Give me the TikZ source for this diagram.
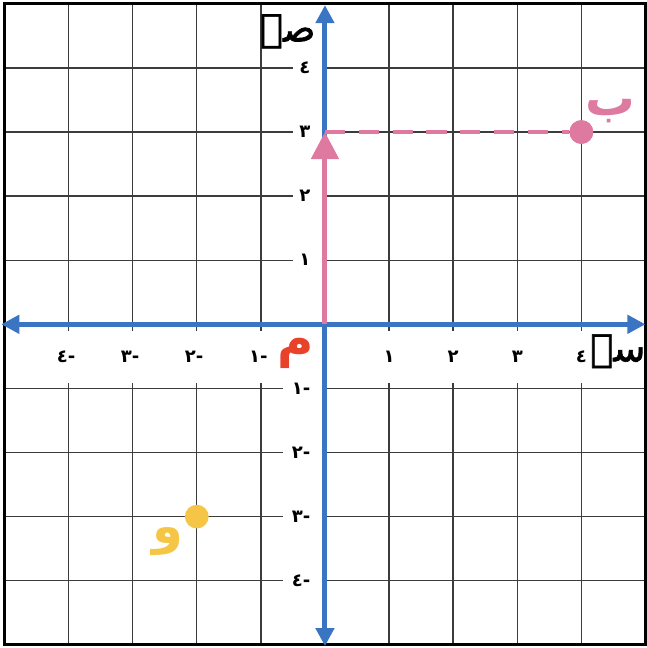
\documentclass[tikz,border=0pt]{standalone}
\usepackage{fontspec}
\usetikzlibrary{arrows.meta}
\TeXXeTstate=1
\newfontfamily\arabicfont[Script=Arabic]{DejaVu Sans}
\newfontfamily\axisfont[Script=Arabic, FakeBold=1.5]{DejaVu Sans}
\definecolor{axisblue}{RGB}{58,117,196}
\definecolor{vecpink}{RGB}{222,122,160}
\definecolor{dotyellow}{RGB}{245,198,70}
\definecolor{labelred}{RGB}{232,67,42}
\definecolor{gridgray}{RGB}{60,60,60}

\begin{document}
\begin{tikzpicture}[x=1cm, y=1cm,
    gridline/.style={gridgray, line width=0.6pt},
    axisline/.style={axisblue, line width=2.2pt, {Triangle[length=8pt,width=8pt]}-{Triangle[length=8pt,width=8pt]}},
    ticklabel/.style={font=\arabicfont\bfseries\fontsize{8}{9}\selectfont, inner sep=0pt},
    letter/.style={font=\arabicfont\bfseries\fontsize{22}{24}\selectfont, inner sep=0pt},
    axislabel/.style={font=\axisfont\fontsize{17}{20}\selectfont, inner sep=0pt},
    dot/.style={circle, minimum size=0.37cm, inner sep=0pt}]
        \useasboundingbox (-5.07,-5.05) rectangle (5.01,5.06);

        % Grid
        \foreach \k in {-4,...,-1,1,2,3,4} {
            \draw [gridline] (\k,5) -- (\k,-0.11);
            \draw [gridline] (\k,-0.92) -- (\k,-5);
        }
        \foreach \k in {1,...,4}
            \draw [gridline] (-5,\k) -- (-0.5,\k) (0,\k) -- (5,\k);
        \foreach \k in {-4,...,-1}
            \draw [gridline] (-5,\k) -- (-0.65,\k) (0,\k) -- (5,\k);
        \draw [line width=1.3pt] (-5,-5) rectangle (5,5);

        % Nodes
        \coordinate (O) at (0,0);
        \coordinate (xl) at (-5.05,0);
        \coordinate (xr) at (5.0,0);
        \coordinate (yb) at (0,-5.02);
        \coordinate (yt) at (0,4.98);
        \coordinate (P) at (0,3);
        \node (B) [dot, fill=vecpink] at (4,3) {};
        \node (W) [dot, fill=dotyellow] at (-2,-3) {};

        % Tick labels
        \foreach \k/\d in {1/١,2/٢,3/٣,4/٤} {
            \node (xp\k) [ticklabel] at (\k,-0.5) {\d};
            \node (xn\k) [ticklabel] at (-\k-0.04,-0.5) {-\d};
            \node (yp\k) [ticklabel, anchor=east] at (-0.22,\k) {\d};
            \node (yn\k) [ticklabel, anchor=east] at (-0.22,-\k) {-\d};
        }

        % Letters
        \node (ylab) [axislabel] at (-0.58,4.57) {\beginR صہ\endR};
        \node (xlab) [axislabel] at (4.57,-0.42) {\beginR سہ\endR};
        \node (Blab) [letter, vecpink] at (4.45,3.32) {\beginR ب\endR};
        \node (Wlab) [letter, dotyellow] at (-2.45,-3.39) {\beginR و\endR};
        \node (Olab) [letter, labelred] at (-0.45,-0.45) {\beginR م\endR};

        % Arrows
        \draw [axisline] (xl) -- (xr);
        \draw [axisline] (yb) -- (yt);
        \draw [vecpink, line width=2.2pt, -{Triangle[length=12pt,width=12pt]}] (O) -- (P);
        \draw [vecpink, line width=1.8pt, dash pattern=on 9pt off 6pt] (P) -- (B);
        \node [dot, fill=vecpink] at (B) {};
\end{tikzpicture}
\end{document}
